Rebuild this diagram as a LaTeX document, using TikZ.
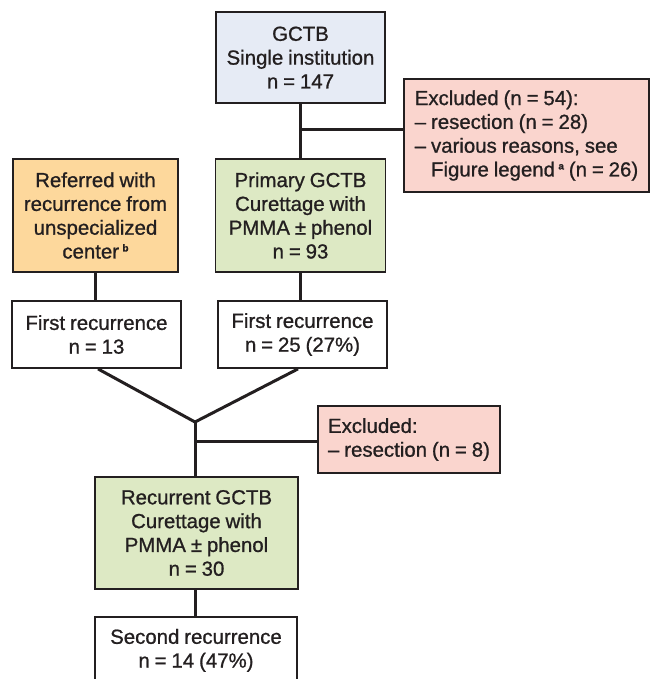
\documentclass[tikz,border=0pt]{standalone}
\usepackage{fontspec}
\setmainfont{Liberation Sans}[FakeBold=0.9]
\definecolor{ink}{HTML}{231F20}
\definecolor{bluefill}{HTML}{E6EBF5}
\definecolor{pinkfill}{HTML}{FAD5CE}
\definecolor{orangefill}{HTML}{FDD89C}
\definecolor{greenfill}{HTML}{DDE9C4}
\newcommand{\boxfont}{\fontsize{20.4}{23.8}\selectfont\spaceskip=0.24em plus 0.05em minus 0.02em\relax}
\tikzset{
  box/.style={draw=ink, line width=1.8pt, inner sep=0pt, align=center, text=ink,
    font=\boxfont},
  conn/.style={draw=ink, line width=3pt},
}
\newcommand{\supmark}[1]{\,{\fontsize{10}{10}\selectfont\raisebox{7pt}{\bfseries #1}}}
\begin{document}
\begin{tikzpicture}[x=1pt,y=-1pt]
\useasboundingbox (0,0) rectangle (652,679);
\node[box, fill=bluefill, minimum width=169, minimum height=91] (top) at (300.5,57.5)
  {GCTB\\Single institution\\n = 147};
\node[box, fill=pinkfill, minimum width=245, minimum height=113, align=left] (ex1) at (526.5,135.5)
  {Excluded (n = 54):\\– resection (n = 28)\\– various reasons, see\\\phantom{– }Figure legend\supmark{a} (n = 26)};
\node[box, fill=orangefill, minimum width=165, minimum height=113] (ref) at (95.5,215.5)
  {Referred with\\recurrence from\\unspecialized\\center\supmark{b}};
\node[box, fill=greenfill, minimum width=170, minimum height=113] (g1) at (300.5,215.5)
  {Primary GCTB\\Curettage with\\PMMA ± phenol\\n = 93};
\node[box, fill=white, minimum width=169, minimum height=67] (fr1) at (96.5,334.5)
  {First recurrence\\n = 13};
\node[box, fill=white, minimum width=169, minimum height=67] (fr2) at (302.5,334.5)
  {First recurrence\\n = 25 (27\%)};
\node[box, fill=pinkfill, minimum width=182, minimum height=67, align=left] (ex2) at (409,439.5)
  {Excluded:\\– resection (n = 8)};
\node[box, fill=greenfill, minimum width=203, minimum height=112] (g2) at (196.5,533)
  {Recurrent GCTB\\Curettage with\\PMMA ± phenol\\n = 30};
\node[box, fill=white, minimum width=202, minimum height=67, anchor=north] (sr) at (196,616)
  {Second recurrence\\n = 14 (47\%)};
% connectors
\coordinate (b1) at (300.5,130);
\coordinate (j) at (195,422);
\coordinate (b2) at (195,441);
\draw[conn] (top.south) -- (g1.north);
\draw[conn] (b1) -- (b1 -| ex1.west);
\draw[conn] (ref.south) -- (ref.south |- fr1.north);
\draw[conn] (g1.south) -- (g1.south |- fr2.north);
\draw[conn] (fr1.south -| 98,0) -- (j);
\draw[conn] (fr2.south -| 298,0) -- (j);
\draw[conn] (j) -- (j |- g2.north);
\draw[conn] (b2) -- (b2 -| ex2.west);
\draw[conn] (g2.south -| 195,0) -- (sr.north -| 195,0);
\end{tikzpicture}
\end{document}
